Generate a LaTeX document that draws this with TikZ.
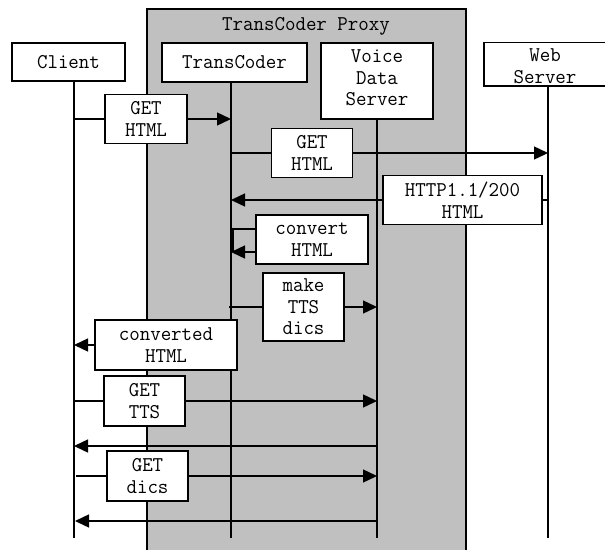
\documentclass[tikz,border=0pt]{standalone}
\usepackage{fontspec}
\newfontfamily\dfont[FakeStretch=0.97]{Latin Modern Mono}
\usetikzlibrary{arrows.meta}
\pgfdeclarelayer{bg}
\pgfdeclarelayer{lines}
\pgfsetlayers{bg,lines,main}
\definecolor{proxygray}{RGB}{192,192,192}
\begin{document}
\begin{tikzpicture}[x=1pt,y=-1pt,
  txt/.style={inner sep=0pt, align=center, font=\dfont\fontsize{21}{21.5}\selectfont},
  box/.style={txt, draw, fill=white, line width=1.6pt},
  life/.style={line width=1.4pt},
  msg/.style={line width=1.4pt, -{Triangle[length=14pt,width=13pt]}},
]
\useasboundingbox (0,0) rectangle (605,549);
\clip (0,0) rectangle (605,549);

% participants
\node[box, minimum width=113pt, minimum height=38pt] (client) at (68.5,62) {Client};
\node[box, minimum width=145pt, minimum height=39pt] (tc) at (234.5,62.5) {TransCoder};
\node[box, minimum width=112pt, minimum height=76pt] (vds) at (377,81) {};
\node[txt] (vdst) at ([yshift=3pt]vds.center) {Voice\\Data\\Server};
\node[box, minimum width=122pt, minimum height=43.5pt] (ws) at (545,64.2) {};
\node[txt] (wst) at ([yshift=-2pt]ws.center) {Web\\Server};
\node[txt] (title) at (306,26) {TransCoder Proxy};

% lifeline ends
\coordinate (clB) at (74,538);
\coordinate (tcB) at (231,538);
\coordinate (vdB) at (377,538);
\coordinate (wsB) at (548,538);

% message labels
\node[box, minimum width=82pt, minimum height=49pt] (m1) at (146,119) {GET\\HTML};
\node[box, minimum width=81pt, minimum height=49pt] (m2) at (312,153) {GET\\HTML};
\node[box, minimum width=159pt, minimum height=49pt] (m3) at (462.5,200) {HTTP1.1/200\\HTML};
\node[box, minimum width=112pt, minimum height=49pt] (m4) at (312,239.5) {convert\\HTML};
\node[box, minimum width=81pt, minimum height=68pt] (m5) at (303.5,307) {make\\TTS\\dics};
\node[box, minimum width=142pt, minimum height=50pt] (m6) at (166,345) {converted\\HTML};
\node[box, minimum width=81pt, minimum height=50pt] (m7) at (144.5,401) {GET\\TTS};
\node[box, minimum width=81pt, minimum height=50pt] (m9) at (147.5,476) {GET\\dics};
\coordinate (r8) at (377,446);
\coordinate (r10) at (377,521);
\coordinate (s1) at (231,229);
\coordinate (s2) at (231,252);

\begin{pgfonlayer}{bg}
  \fill[proxygray] (147,9) rectangle (466,560);
  \draw[line width=1.6pt] (147,560) -- (147,9) -- (466,9) -- (466,560);
\end{pgfonlayer}

\begin{pgfonlayer}{lines}
  \draw[life] (clB |- client.south) -- (clB);
  \draw[life] (tcB |- tc.south) -- (tcB);
  \draw[life] (vdB |- vds.south) -- (vdB);
  \draw[life] (wsB |- ws.south) -- (wsB);

  \draw[msg] (clB |- m1) -- (tcB |- m1);
  \draw[msg] (tcB |- m2) -- (wsB |- m2);
  \draw[msg] (wsB |- m3) -- (tcB |- m3);
  \draw[life] (s1) -- (s1 -| m4.west);
  \draw[msg] (s2 -| m4.west) -- (s2);
  \draw[life] ([xshift=2pt]s1) -- ([xshift=2pt]s2);
  \draw[msg] ([xshift=-2pt]tcB |- m5) -- (vdB |- m5);
  \draw[msg] (tcB |- m6) -- (clB |- m6);
  \draw[msg] (clB |- m7) -- (vdB |- m7);
  \draw[msg] (r8) -- (r8 -| clB);
  \draw[msg] ([xshift=2pt]clB |- m9) -- (vdB |- m9);
  \draw[msg] (r10) -- ([xshift=1pt]r10 -| clB);
\end{pgfonlayer}
\end{tikzpicture}
\end{document}
